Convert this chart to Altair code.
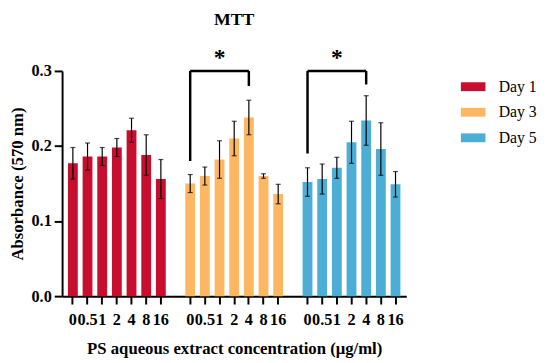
import altair as alt
import pandas as pd

conc = ["0", "0.5", "1", "2", "4", "8", "16"]
days = ["Day 1", "Day 3", "Day 5"]
day1_mean = [0.177, 0.186, 0.186, 0.198, 0.221, 0.188, 0.156]
day1_err = [0.021, 0.018, 0.012, 0.012, 0.016, 0.027, 0.026]
day3_mean = [0.150, 0.160, 0.182, 0.210, 0.238, 0.160, 0.136]
day3_err = [0.012, 0.012, 0.025, 0.023, 0.023, 0.003, 0.013]
day5_mean = [0.152, 0.156, 0.171, 0.205, 0.234, 0.196, 0.149]
day5_err = [0.019, 0.020, 0.014, 0.028, 0.033, 0.035, 0.017]
colors = ["#C70E2F", "#FDB763", "#4CAED5"]

means = [day1_mean, day3_mean, day5_mean]
errs = [day1_err, day3_err, day5_err]

rows = []
for d, m, e in zip(days, means, errs):
    for c, mv, ev in zip(conc, m, e):
        rows.append({"key": f"{c}_{d[-1]}", "conc": c, "day": d,
                     "mean": mv, "lo": mv - ev, "hi": mv + ev})
df = pd.DataFrame(rows)

keys = list(df["key"])
domain = keys[0:7] + ["gap1"] + keys[7:14] + ["gap2"] + keys[14:21]

# significance brackets (Day 3: 0 vs 4, Day 5: 0 vs 4)
br = pd.DataFrame({
    "a": ["0_3", "0_5"], "b": ["4_3", "4_5"], "s": ["1_3", "1_5"],
    "top": [0.3, 0.3], "la": [0.18, 0.19], "lb": [0.28, 0.282], "star": [0.317, 0.317],
})

FONT = "Liberation Serif"

xenc = alt.X("key:O", scale=alt.Scale(domain=domain, paddingInner=0.33, paddingOuter=0.4),
             axis=alt.Axis(values=keys, labelExpr="split(datum.label, '_')[0]",
                           labelAngle=0, labelOverlap=False, title="PS aqueous extract concentration (μg/ml)",
                           labelFont=FONT, labelFontWeight="bold", labelFontSize=16.5, labelColor="black",
                           titleFont=FONT, titleFontWeight="bold", titleFontSize=17, titleColor="black",
                           titlePadding=13, labelPadding=8,
                           domainColor="black", domainWidth=2, tickColor="black", tickWidth=2, tickSize=8))
yscale = alt.Scale(domain=[0, 0.3], nice=False)

bars = alt.Chart(df).mark_bar().encode(
    x=xenc,
    y=alt.Y("mean:Q", scale=yscale,
            axis=alt.Axis(values=[0, 0.1, 0.2, 0.3], format=".1f", grid=False,
                          title="Absorbance (570 nm)",
                          labelFont=FONT, labelFontWeight="bold", labelFontSize=16.5, labelColor="black",
                          titleFont=FONT, titleFontWeight="bold", titleFontSize=17, titleColor="black",
                          titlePadding=5, labelPadding=3,
                          domainColor="black", domainWidth=2, tickColor="black", tickWidth=2, tickSize=8)),
    color=alt.Color("day:N", scale=alt.Scale(domain=days, range=colors),
                    legend=alt.Legend(title=None, orient="none", legendX=408, legendY=6,
                                      symbolType="M-1.25,-0.45L1.25,-0.45L1.25,0.45L-1.25,0.45Z",
                                      symbolSize=400, symbolStrokeWidth=0, symbolOpacity=1,
                                      labelFont=FONT, labelFontSize=16, labelColor="black",
                                      labelOffset=16, rowPadding=8)),
)

ebar = alt.Chart(df).mark_rule(color="black", strokeWidth=1.2).encode(
    x="key:O", y=alt.Y("lo:Q", scale=yscale), y2="hi:Q")
capt = alt.Chart(df).mark_tick(color="black", thickness=1.2, size=5).encode(
    x="key:O", y=alt.Y("hi:Q", scale=yscale))
capb = alt.Chart(df).mark_tick(color="black", thickness=1.2, size=5).encode(
    x="key:O", y=alt.Y("lo:Q", scale=yscale))

hr = alt.Chart(br).mark_rule(color="black", strokeWidth=2.5).encode(
    x="a:O", x2="b:O", y=alt.Y("top:Q", scale=yscale))
vl = alt.Chart(br).mark_rule(color="black", strokeWidth=2.5).encode(
    x="a:O", y=alt.Y("la:Q", scale=yscale), y2="top:Q")
vr = alt.Chart(br).mark_rule(color="black", strokeWidth=2.5).encode(
    x="b:O", y=alt.Y("lb:Q", scale=yscale), y2="top:Q")
star = alt.Chart(br).mark_text(text="*", font=FONT, fontWeight="bold", fontSize=24,
                               color="black", baseline="middle").encode(
    x="s:O", y=alt.Y("star:Q", scale=yscale))

chart = alt.layer(bars, ebar, capt, capb, hr, vl, vr, star).properties(
    width=350, height=229,
    padding={"left": 0, "top": 0, "right": 5, "bottom": 5},
    title=alt.TitleParams("MTT", font=FONT, fontWeight="bold", fontSize=18, color="black",
                          anchor="middle", offset=10, dy=-8),
).configure_view(stroke=None)

chart.save("out.html", embed_options={"renderer": "svg", "actions": False})
